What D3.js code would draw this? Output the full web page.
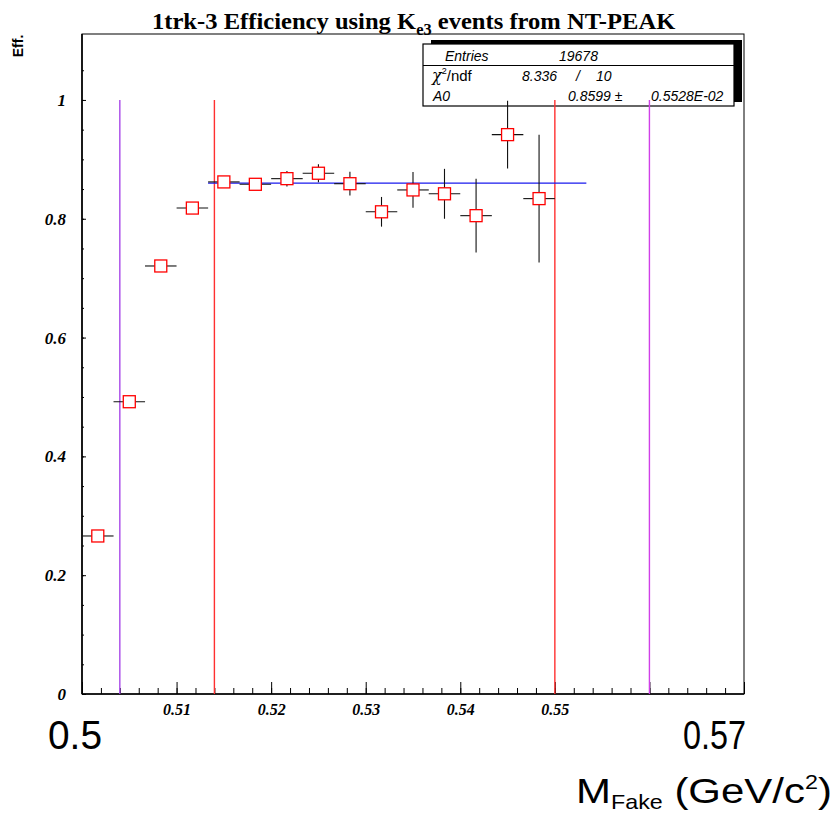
<!DOCTYPE html>
<html>
<head>
<meta charset="utf-8">
<script src="https://cdn.jsdelivr.net/npm/d3@7"></script>
<style>
html,body{margin:0;padding:0;background:#fff;}
svg{display:block;}
</style>
</head>
<body>
<svg id="chart" width="836" height="813"></svg>
<script>
// ---- data ----
const massBins = [0.50167, 0.50500, 0.50833, 0.51167, 0.51500, 0.51833, 0.52167, 0.52500, 0.52833, 0.53167, 0.53500, 0.53833, 0.54167, 0.54500, 0.54833];
const binHalfWidth = 0.001667;
const effValues = [0.266, 0.492, 0.7205, 0.818, 0.862, 0.858, 0.8675, 0.8766, 0.859, 0.8117, 0.8485, 0.842, 0.8052, 0.9416, 0.8339];
const effErrors = [0.003, 0.004, 0.004, 0.005, 0.007, 0.006, 0.013, 0.015, 0.02, 0.025, 0.03, 0.042, 0.062, 0.057, 0.1075];
const fitValue = 0.8599;
const fitRange = [0.51333, 0.55333];
const cutLines = [0.504, 0.514, 0.55, 0.56];
const cutColors = ["#a848e8", "#ff3030", "#ff3030", "#d040e8"];
const xLabelTicks = [0.51, 0.52, 0.53, 0.54, 0.55];
const xMajorTicks = [0.50, 0.51, 0.52, 0.53, 0.54, 0.55, 0.56, 0.57];
const yLabelTicks = [0, 0.2, 0.4, 0.6, 0.8, 1];
const statsRows = [["Entries", "19678"], ["χ²/ndf", "8.336  /  10"], ["A0", "0.8599 ±", "0.5528E-02"]];

// ---- layout ----
const svg = d3.select("#chart");
const L = 82, R = 744, T = 34, B = 694;
const x = d3.scaleLinear().domain([0.5, 0.57]).range([L, R]);
const y = d3.scaleLinear().domain([0, 1.111]).range([B, T]);

// horizontally fit a text so its ink spans [x0, x1]
function fitWidth(sel, x0, x1) {
  const bb = sel.node().getBBox();
  const sx = (x1 - x0) / bb.width;
  sel.attr("transform", `translate(${x0},0) scale(${sx},1) translate(${-bb.x},0)`);
}

// title
const title = svg.append("text").attr("x", 152).attr("y", 29)
  .attr("font-family", "Liberation Serif, Times New Roman, serif")
  .attr("font-weight", "bold").attr("font-size", 24).attr("fill", "#000");
title.append("tspan").text("1trk-3 Efficiency using K");
title.append("tspan").attr("font-size", 16).attr("dy", 6).text("e3");
title.append("tspan").attr("dy", -6).text(" events from NT-PEAK");
fitWidth(title, 152, 676);

// y title
svg.append("text").attr("transform", "translate(23,46) rotate(-90)")
  .attr("text-anchor", "middle")
  .attr("font-family", "Liberation Sans, Arial, sans-serif")
  .attr("font-weight", "bold").attr("font-size", 14).text("Eff.");

// frame
svg.append("rect").attr("x", L).attr("y", T).attr("width", R - L).attr("height", B - T)
  .attr("fill", "none").attr("stroke", "#000").attr("stroke-width", 1);

// stats box (drawn before data so lines overlay it)
const bx = 423, by = 44, bw = 311, bh = 62;
svg.append("rect").attr("x", bx + 8).attr("y", by - 4).attr("width", bw).attr("height", bh).attr("fill", "#000");
svg.append("rect").attr("x", bx).attr("y", by).attr("width", bw).attr("height", bh)
  .attr("fill", "#fff").attr("stroke", "#000").attr("stroke-width", 1.2);
svg.append("line").attr("x1", bx).attr("x2", bx + bw).attr("y1", 65.5).attr("y2", 65.5)
  .attr("stroke", "#000").attr("stroke-width", 1.2);
const sf = "Liberation Sans, Arial, sans-serif";
const st = (tx, ty, s, italic) => svg.append("text").attr("x", tx).attr("y", ty)
  .attr("font-family", sf).attr("font-size", 14).attr("font-style", italic ? "italic" : "normal").text(s);
st(445, 61, statsRows[0][0], true);
st(559, 61, statsRows[0][1], true);
const chi = svg.append("text").attr("x", 432).attr("y", 81).attr("font-family", sf).attr("font-size", 15);
chi.append("tspan").attr("font-style", "italic").attr("font-family", "DejaVu Serif, serif").attr("font-size", 16).text("χ");
chi.append("tspan").attr("font-size", 9).attr("dy", -7).text("2");
chi.append("tspan").attr("dy", 7).text("/ndf");
st(522, 81, "8.336", true);
st(576, 81, "/", true);
st(596, 81, "10", true);
st(433, 101, statsRows[2][0], true);
st(568, 101, statsRows[2][1], true);
st(651, 101, statsRows[2][2], true);

// axes lines
svg.append("line").attr("x1", L).attr("x2", L).attr("y1", T).attr("y2", B).attr("stroke", "#000").attr("stroke-width", 1.6);
svg.append("line").attr("x1", L).attr("x2", R).attr("y1", B).attr("y2", B).attr("stroke", "#000").attr("stroke-width", 1.6);

// x ticks via d3 axes (inside ticks)
const xMinor = d3.range(0.502, 0.5699, 0.002);
const gxm = svg.append("g").attr("transform", `translate(0,${B})`)
  .call(d3.axisBottom(x).tickValues(xMinor).tickSizeInner(-6).tickSizeOuter(0).tickFormat(""));
gxm.select(".domain").remove();
const gxM = svg.append("g").attr("transform", `translate(0,${B})`)
  .call(d3.axisBottom(x).tickValues(xMajorTicks).tickSizeInner(-12).tickSizeOuter(0)
    .tickFormat(d => xLabelTicks.some(v => Math.abs(v - d) < 1e-6) ? d3.format(".2f")(d) : ""));
gxM.select(".domain").remove();
gxM.selectAll("text").attr("y", 10).attr("dy", "0.71em")
  .attr("font-family", "Liberation Serif, Times New Roman, serif")
  .attr("font-weight", "bold").attr("font-style", "italic").attr("font-size", 16).attr("fill", "#000");

// y ticks
const yMinor = d3.range(0.05, 1.1, 0.05);
const gym = svg.append("g").attr("transform", `translate(${L},0)`)
  .call(d3.axisLeft(y).tickValues(yMinor).tickSizeInner(-2).tickSizeOuter(0).tickFormat(""));
gym.select(".domain").remove();
const gyM = svg.append("g").attr("transform", `translate(${L},0)`)
  .call(d3.axisLeft(y).tickValues(yLabelTicks).tickSizeInner(-4).tickSizeOuter(0).tickFormat(d => d3.format("")(d)));
gyM.select(".domain").remove();
gyM.selectAll("text").attr("x", -16)
  .attr("font-family", "Liberation Serif, Times New Roman, serif")
  .attr("font-weight", "bold").attr("font-style", "italic").attr("font-size", 17).attr("fill", "#000");
svg.selectAll("g .tick line").attr("stroke", "#000").attr("stroke-width", 1);

// big axis-end labels
const l0 = svg.append("text").attr("y", 749).attr("font-family", sf).attr("font-size", 40).text("0.5");
fitWidth(l0, 48, 102);
const l1 = svg.append("text").attr("y", 749).attr("font-family", sf).attr("font-size", 40).text("0.57");
fitWidth(l1, 683, 746);

// x title
const xt = svg.append("text").attr("y", 803).attr("font-family", sf).attr("font-size", 36);
xt.append("tspan").text("M");
xt.append("tspan").attr("font-size", 20).attr("dy", 6).text("Fake");
xt.append("tspan").attr("dy", -6).text(" (GeV/c");
xt.append("tspan").attr("font-size", 20).attr("dy", -14).text("2");
xt.append("tspan").attr("dy", 14).text(")");
fitWidth(xt, 576, 832);

// cut lines
svg.selectAll(".cut").data(cutLines).enter().append("line")
  .attr("x1", d => x(d)).attr("x2", d => x(d)).attr("y1", y(1)).attr("y2", B)
  .attr("stroke", (d, i) => cutColors[i]).attr("stroke-width", 1.4);

// fit line
svg.append("line").attr("x1", x(fitRange[0])).attr("x2", x(fitRange[1]))
  .attr("y1", y(fitValue)).attr("y2", y(fitValue)).attr("stroke", "#1a1aee").attr("stroke-width", 1.4);

// data points
const pts = massBins.map((m, i) => ({ m, v: effValues[i], e: effErrors[i] }));
const g = svg.append("g");
g.selectAll(".eh").data(pts).enter().append("line")
  .attr("x1", d => x(d.m - binHalfWidth)).attr("x2", d => x(d.m + binHalfWidth))
  .attr("y1", d => y(d.v)).attr("y2", d => y(d.v)).attr("stroke", "#111").attr("stroke-width", 1.1);
g.selectAll(".ev").data(pts).enter().append("line")
  .attr("x1", d => x(d.m)).attr("x2", d => x(d.m))
  .attr("y1", d => y(Math.min(d.v + d.e, 1.0))).attr("y2", d => y(d.v - d.e)).attr("stroke", "#111").attr("stroke-width", 1.1);
g.selectAll(".mk").data(pts).enter().append("rect")
  .attr("x", d => x(d.m) - 6).attr("y", d => y(d.v) - 6).attr("width", 12).attr("height", 12)
  .attr("fill", "#fff").attr("stroke", "#ff0000").attr("stroke-width", 1.3);
</script>
</body>
</html>
